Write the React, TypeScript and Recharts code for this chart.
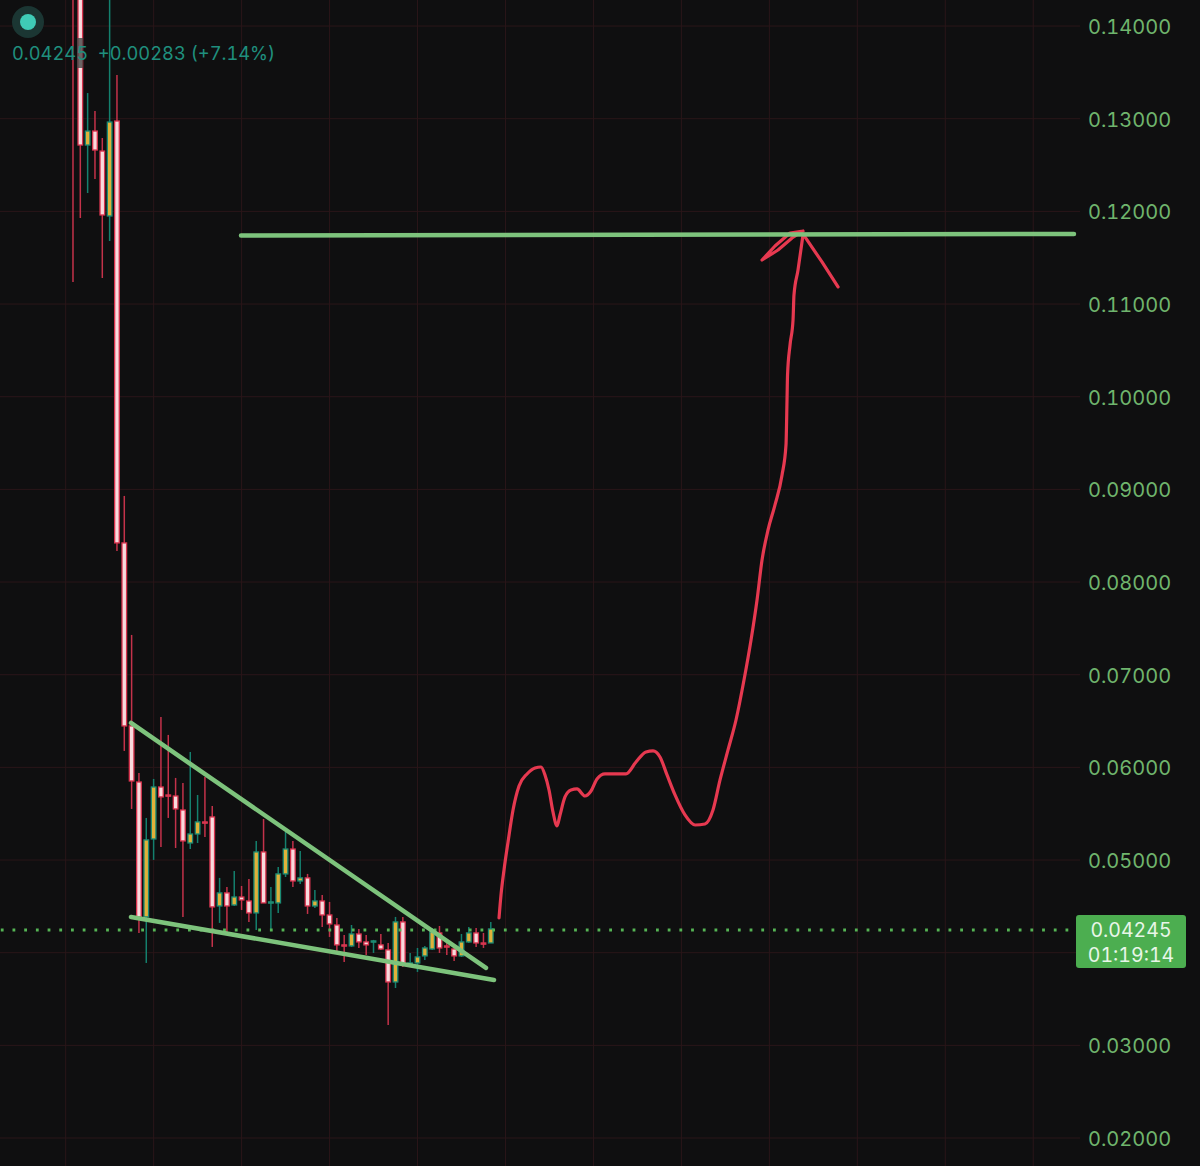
import React from "react";
import { ComposedChart, Bar, Line, XAxis, YAxis, CartesianGrid, ReferenceLine } from "recharts";

const opens = [
  0.16, 0.15, 0.12716, 0.12867, 0.12651, 0.1195, 0.12975, 0.08422, 0.06447, 0.05842,
  0.04386, 0.05227, 0.05788, 0.05702, 0.05691, 0.0554, 0.05184, 0.05281, 0.05411, 0.05465,
  0.04504, 0.04645, 0.04515, 0.04601, 0.04558, 0.04429, 0.05087, 0.04537, 0.04537, 0.0485,
  0.05119, 0.04774, 0.04807, 0.04504, 0.04558, 0.04407, 0.04299, 0.04084, 0.04073, 0.04202,
  0.04116, 0.04116, 0.04084, 0.0403, 0.03684, 0.04332, 0.03878, 0.03889, 0.03965, 0.0404,
  0.04213, 0.04073, 0.0404, 0.03965, 0.04116, 0.04213, 0.04105, 0.04105,
];
const closes = [
  0.15, 0.12716, 0.12867, 0.12662, 0.11961, 0.12964, 0.08422, 0.06447, 0.05853, 0.04386,
  0.05217, 0.05788, 0.05681, 0.05691, 0.05551, 0.05206, 0.05281, 0.05411, 0.054, 0.04494,
  0.04645, 0.04504, 0.04601, 0.04569, 0.04429, 0.05087, 0.04537, 0.04548, 0.0485, 0.05119,
  0.04774, 0.04807, 0.04504, 0.04558, 0.04407, 0.0431, 0.04084, 0.04073, 0.04202, 0.04116,
  0.04084, 0.04127, 0.0404, 0.03684, 0.04332, 0.03878, 0.03889, 0.03954, 0.04051, 0.04224,
  0.04051, 0.04062, 0.03965, 0.04116, 0.04213, 0.04105, 0.04095, 0.04256,
];
const highs = [
  0.162, 0.152, 0.13277, 0.13083, 0.12792, 0.1445, 0.13472, 0.08929, 0.07429, 0.0594,
  0.05454, 0.05875, 0.06544, 0.0635, 0.05886, 0.05832, 0.06166, 0.05702, 0.05896, 0.05583,
  0.04807, 0.04709, 0.04882, 0.0472, 0.04796, 0.05206, 0.05443, 0.04709, 0.04925, 0.05303,
  0.05206, 0.05098, 0.0485, 0.04677, 0.04623, 0.04548, 0.04375, 0.04191, 0.04299, 0.04256,
  0.04191, 0.04138, 0.04202, 0.04105, 0.04386, 0.04386, 0.03997, 0.04051, 0.04073, 0.04267,
  0.04288, 0.04116, 0.04084, 0.04202, 0.04278, 0.04267, 0.04213, 0.04332,
];
const lows = [
  0.11238, 0.11929, 0.12198, 0.12349, 0.11281, 0.1168, 0.08335, 0.06177, 0.05551, 0.04213,
  0.03889, 0.05001, 0.05141, 0.05454, 0.0513, 0.04386, 0.05119, 0.05184, 0.05249, 0.04062,
  0.04321, 0.04213, 0.04504, 0.04461, 0.04332, 0.04245, 0.04537, 0.04245, 0.04429, 0.04817,
  0.04709, 0.04742, 0.04418, 0.04483, 0.04278, 0.0417, 0.03986, 0.039, 0.04062, 0.04051,
  0.03976, 0.03997, 0.0403, 0.0322, 0.03619, 0.03846, 0.03846, 0.03792, 0.03922, 0.0403,
  0.03997, 0.03976, 0.03911, 0.03954, 0.04105, 0.04062, 0.04051, 0.04105,
];

const yTicks = [0.02, 0.03, 0.04, 0.05, 0.06, 0.07, 0.08, 0.09, 0.1, 0.11, 0.12, 0.13, 0.14];
const gridTimes = [-1, 11, 23, 35, 47, 59, 71, 83, 95, 107, 119, 131];
const lastPrice = 0.04245;

const resistanceTime = [22.92, 136.56];
const resistancePrice = [0.1174, 0.11756];
const wedgeUpperTime = [7.91, 56.34];
const wedgeUpperPrice = [0.06479, 0.03835];
const wedgeLowerTime = [7.91, 57.44];
const wedgeLowerPrice = [0.04386, 0.03706];

const pathTime = [
  58.12, 58.39, 58.8, 59.35, 60.03, 60.85, 61.94, 63.03, 63.85, 64.39, 64.94, 65.48, 66.03, 66.44, 67.12, 67.94,
  68.76, 69.85, 70.67, 71.49, 72.58, 73.94, 75.44, 76.81, 78.17, 79.13, 80.08, 81.04, 82.13, 83.49, 84.86, 86.22,
  87.31, 88.27, 89.36, 90.45, 91.54, 92.5, 93.32, 94.0, 94.82, 95.77, 96.73, 97.27, 97.41, 97.48, 97.82, 98.23,
  98.36, 98.91, 99.59,
];
const pathPrice = [
  0.04375, 0.04623, 0.04893, 0.05195, 0.0554, 0.05799, 0.05929, 0.05994, 0.06004, 0.05918, 0.05756, 0.05519, 0.05368,
  0.05486, 0.05681, 0.05756, 0.05767, 0.05691, 0.05745, 0.05875, 0.05929, 0.05929, 0.05929, 0.06058, 0.06166, 0.06177,
  0.06112, 0.05918, 0.05702, 0.05486, 0.05378, 0.05389, 0.0554, 0.05864, 0.06188, 0.06511, 0.06943, 0.07375, 0.07806,
  0.08238, 0.08562, 0.08832, 0.09155, 0.09479, 0.09965, 0.10234, 0.10558, 0.10828, 0.11098, 0.11367, 0.11745,
];
const headTime = [99.86, 102.18, 104.37];
const headPrice = [0.11724, 0.11454, 0.11184];
const barbTime = [99.59, 97.82, 95.77, 94.0, 96.18, 98.09, 99.59];
const barbPrice = [0.11788, 0.11767, 0.11626, 0.11475, 0.11583, 0.11713, 0.11788];

const candles = opens.map((open, i) => ({
  t: i,
  open,
  close: closes[i],
  high: highs[i],
  low: lows[i],
}));
const toSeries = (ts: number[], ps: number[]) => ts.map((t, i) => ({ t, p: ps[i] }));

const BG = "#0f0f10";
const FONT = "Inter, 'Noto Sans', sans-serif";
const BODY_WIDTH = 4.6;

function CandleShape(props: any) {
  const { x, y, width, height, payload } = props;
  const top = Math.min(y, y + height);
  const h = Math.abs(height);
  const { open, close, high, low } = payload;
  const up = close >= open;
  const toPx = (v: number) => top + ((high - v) / (high - low)) * h;
  const bodyTop = toPx(Math.max(open, close));
  const bodyBottom = toPx(Math.min(open, close));
  const cx = x + width / 2;
  const edge = up ? "#1b8b74" : "#d9334e";
  const wick = up ? "#14806e" : "#c4324a";
  const fill = up ? "#e0b13a" : "#f8dadd";
  return (
    <g>
      <line x1={cx} x2={cx} y1={top} y2={top + h} stroke={wick} strokeWidth={1.5} />
      <rect
        x={cx - BODY_WIDTH / 2}
        y={bodyTop}
        width={BODY_WIDTH}
        height={Math.max(bodyBottom - bodyTop, 1.2)}
        fill={fill}
        stroke={edge}
        strokeWidth={1.3}
      />
    </g>
  );
}

function PriceTick(props: any) {
  const { x, y, payload } = props;
  return (
    <text
      x={x}
      y={y + 8}
      fill="#6fb56d"
      fontSize={20}
      fontFamily={FONT}
      textAnchor="start"
      style={{ fontVariantNumeric: "tabular-nums" }}
    >
      {payload.value.toFixed(5)}
    </text>
  );
}

const abs = (s: React.CSSProperties): React.CSSProperties => ({ position: "absolute", ...s });
const lineProps = {
  dataKey: "p",
  dot: false,
  activeDot: false,
  strokeLinecap: "round",
  strokeLinejoin: "round",
  isAnimationActive: false,
  legendType: "none",
} as const;
const badgeText: React.CSSProperties = {
  left: 1076,
  width: 110,
  height: 24,
  color: "#e8f6e8",
  fontFamily: FONT,
  fontSize: 19.5,
  lineHeight: "24px",
  textAlign: "center",
  fontVariantNumeric: "tabular-nums",
};

export default function App() {
  return (
    <div style={abs({ left: 0, top: 0, width: 1200, height: 1166, background: BG, overflow: "hidden" })}>
      <ComposedChart
        width={1200}
        height={1166}
        data={candles}
        margin={{ top: 0, right: 0, bottom: 0, left: 0 }}
      >
        <CartesianGrid
          stroke="#2a1619"
          strokeWidth={1}
          horizontalValues={yTicks}
          verticalValues={gridTimes}
          syncWithTicks={false}
        />
        <XAxis type="number" dataKey="t" domain={[-9.96, 137.38]} allowDataOverflow hide />
        <YAxis
          orientation="right"
          width={120}
          type="number"
          domain={[0.01698, 0.14281]}
          allowDataOverflow
          ticks={yTicks}
          interval={0}
          axisLine={false}
          tickLine={false}
          tickMargin={0}
          tickSize={8}
          tick={<PriceTick />}
        />
        <ReferenceLine y={lastPrice} stroke="#55b455" strokeWidth={3} strokeDasharray="2.8 8.9" />
        <Bar
          dataKey={(d: any) => [d.low, d.high]}
          barSize={7}
          shape={<CandleShape />}
          isAnimationActive={false}
        />
        <Line {...lineProps} data={toSeries(wedgeUpperTime, wedgeUpperPrice)} type="linear" stroke="#7dc37c" strokeWidth={4.5} />
        <Line {...lineProps} data={toSeries(wedgeLowerTime, wedgeLowerPrice)} type="linear" stroke="#7dc37c" strokeWidth={4.5} />
        <Line {...lineProps} data={toSeries(pathTime, pathPrice)} type="monotone" stroke="#e63950" strokeWidth={3.2} />
        <Line {...lineProps} data={toSeries(barbTime, barbPrice)} type="linear" stroke="#e63950" strokeWidth={3.2} />
        <Line {...lineProps} data={toSeries(headTime, headPrice)} type="linear" stroke="#e63950" strokeWidth={3.2} />
        <Line {...lineProps} data={toSeries(resistanceTime, resistancePrice)} type="linear" stroke="#7dc37c" strokeWidth={4.5} />
      </ComposedChart>

      <div style={abs({ left: 12, top: 6, width: 32, height: 32, borderRadius: 16, background: "#1b3633" })} />
      <div style={abs({ left: 20, top: 14, width: 16, height: 16, borderRadius: 8, background: "#3fcbb6" })} />
      <div style={abs({ left: 77, top: 38, width: 6, height: 30, background: "rgba(70,70,70,0.8)" })} />
      <div
        style={abs({
          left: 12,
          top: 41,
          fontFamily: FONT,
          fontSize: 18.3,
          lineHeight: "24px",
          color: "#1f8f7e",
          whiteSpace: "pre",
          fontVariantNumeric: "tabular-nums",
        })}
      >
        0.04245  +0.00283 (+7.14%)
      </div>
      <div style={abs({ left: 1076, top: 915, width: 110, height: 53, borderRadius: 3, background: "#4cae50" })} />
      <div style={abs({ ...badgeText, top: 918 })}>0.04245</div>
      <div style={abs({ ...badgeText, top: 943 })}>01:19:14</div>
    </div>
  );
}
